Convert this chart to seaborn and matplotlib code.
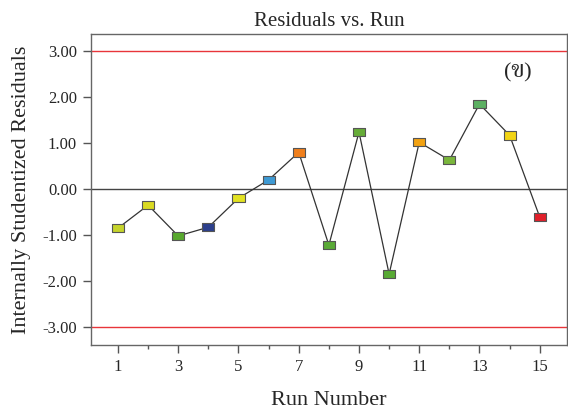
import numpy as np
import pandas as pd
import matplotlib
matplotlib.use("Agg")
import matplotlib.pyplot as plt
import seaborn as sns
from matplotlib.ticker import MultipleLocator

# run number and residuals
runs = [1, 2, 3, 4, 5, 6, 7, 8, 9, 10, 11, 12, 13, 14, 15]
residuals = [-0.85, -0.35, -1.02, -0.83, -0.20, 0.20, 0.80, -1.22, 1.24,
             -1.85, 1.02, 0.63, 1.85, 1.17, -0.61]
point_colors = ["#c6d42c", "#dada22", "#58a82e", "#2c3f8c", "#e2e222",
                "#3e9ad4", "#f07f1c", "#5aaa36", "#66ac38", "#58aa34",
                "#f2a212", "#7ab63c", "#5cb062", "#f2d414", "#e0202a"]
limit = 3.0
ytick_vals = [-3, -2, -1, 0, 1, 2, 3]
ytick_labels = ["-3.00", "-2.00", "-1.00", "0.00", "1.00", "2.00", "3.00"]
xtick_vals = [1, 3, 5, 7, 9, 11, 13, 15]

df = pd.DataFrame({"Run": runs, "Residual": residuals})

sns.set_theme(style="white")
plt.rcParams["font.family"] = ["Liberation Serif", "DejaVu Serif", "DejaVu Sans"]

fig, ax = plt.subplots(figsize=(5.68, 4.12), dpi=100)
fig.subplots_adjust(left=0.160, right=0.998, top=0.917, bottom=0.163)

ax.axhline(limit, color="#e8353a", lw=1.0, zorder=1)
ax.axhline(-limit, color="#e8353a", lw=1.0, zorder=1)
ax.axhline(0, color="#444444", lw=1.0, zorder=1)

sns.lineplot(data=df, x="Run", y="Residual", color="#333333", lw=0.9,
             ax=ax, zorder=2)
rect = [(-1, -0.7), (1, -0.7), (1, 0.7), (-1, 0.7), (-1, -0.7)]
sns.scatterplot(data=df, x="Run", y="Residual", hue="Run",
                palette=point_colors, marker=rect, s=75, edgecolor="#555555",
                linewidth=0.8, legend=False, ax=ax, zorder=3)

ax.set_xlim(0.1, 15.9)
ax.set_ylim(-3.39, 3.37)
ax.set_xticks(xtick_vals)
ax.xaxis.set_minor_locator(MultipleLocator(1))
ax.set_yticks(ytick_vals)
ax.set_yticklabels(ytick_labels)

ax.tick_params(axis="both", which="major", direction="out", length=6,
               width=1.0, color="#555555", labelsize=12, pad=4,
               bottom=True, left=True)
ax.tick_params(axis="x", which="minor", direction="out", length=3,
               width=1.0, color="#555555", bottom=True)
for s in ax.spines.values():
    s.set_color("#666666")
    s.set_linewidth(1.0)

ax.set_title("Residuals vs. Run", fontsize=15, pad=6)
ax.set_xlabel("Run Number", fontsize=16, labelpad=12)
ax.set_ylabel("Internally Studentized Residuals", fontsize=16, labelpad=8)
ax.text(0.897, 0.875, "(ข)", transform=ax.transAxes, fontsize=16,
        ha="center", va="center",
        family=["Liberation Serif", "Trirong", "DejaVu Sans"])

fig.savefig("out.png", dpi=100)
